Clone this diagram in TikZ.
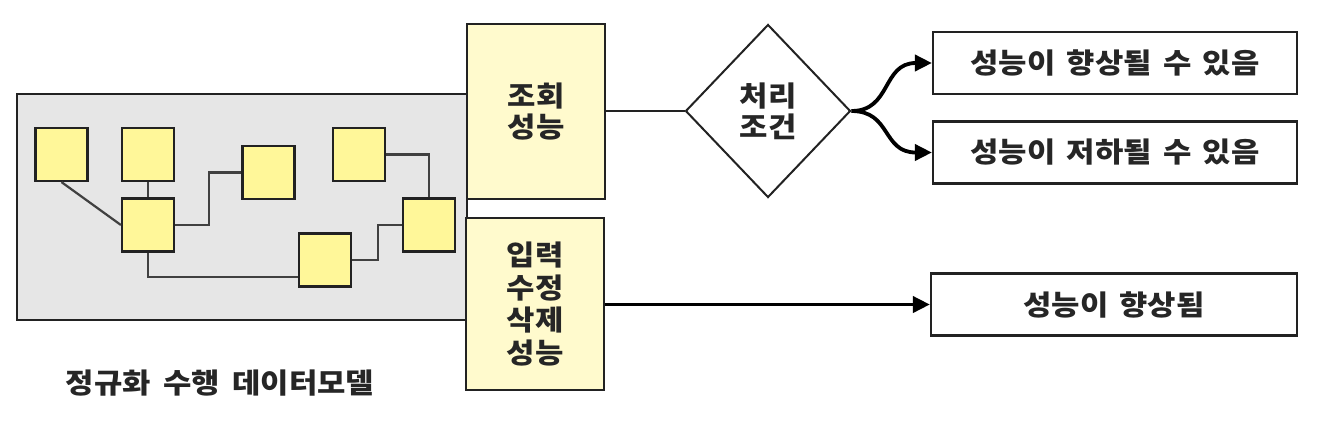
\documentclass[tikz,border=0pt]{standalone}
\usepackage{fontspec}
\newfontfamily\kr{Noto Sans CJK KR}[FakeStretch=1.1, WordSpace=1.6]
\usetikzlibrary{shapes.geometric,arrows.meta,calc}
\definecolor{grayfill}{HTML}{E6E6E6}
\definecolor{sqfill}{HTML}{FFF799}
\definecolor{bigfill}{HTML}{FFFACD}
\definecolor{edge}{HTML}{222222}
\begin{document}
\begin{tikzpicture}[x=1pt,y=-1pt,
  every node/.style={font=\kr\bfseries\fontsize{28}{31}\selectfont, text=black!85, inner sep=0pt},
  grayarea/.style={draw=edge, line width=2.2pt, fill=grayfill, minimum width=450, minimum height=226},
  sq/.style={draw=edge, line width=2.2pt, fill=sqfill, minimum width=52, minimum height=53},
  link/.style={draw=black!75, line width=2.2pt},
  bigbox/.style={draw=edge, line width=2.2pt, fill=bigfill, minimum width=138, align=center},
  resbox/.style={draw=edge, line width=2.2pt, fill=white, minimum height=62},
  cond/.style={shape=diamond, draw=edge, line width=2pt, fill=white, minimum width=165, minimum height=173, aspect=0.95},
  thin/.style={draw=edge, line width=1.8pt},
  bold/.style={draw=black, line width=3.8pt, -{Triangle[length=17pt,width=16pt]}}
]
\useasboundingbox (0,0) rectangle (1321,421);
% gray area
\node[grayarea] (area) at (242,207) {};
% small squares
\node[sq] (s1) at (61.5,154.5) {};
\node[sq] (s2) at (148,154.5) {};
\node[sq] (s3) at (268.5,172.5) {};
\node[sq] (s4) at (359,154.5) {};
\node[sq] (s5) at (148,225) {};
\node[sq] (s6) at (429,225) {};
\node[sq] (s7) at (325,260) {};
\draw[link] (s1.south) -- (s5.west);
\draw[link] (s2.south) -- (s5.north);
\draw[link] (s5.east) -- ++(34,0) |- (s3.west);
\draw[link] (s4.east) -| (s6.north);
\draw[link] (s7.east) -- ++(26,0) |- (s6.west);
\draw[link] (s5.south) |- ($(s7.west)+(0,17)$);
% big yellow boxes
\node[bigbox, minimum height=175] (b1) at (536,111.5) {조회\\성능};
\node[bigbox, minimum height=172, font=\kr\bfseries\fontsize{28}{32.5}\selectfont] (b2) at (535,304) {입력\\수정\\삭제\\성능};
% decision
\node[cond, align=center] (d) at (768,111) {처리\\조건};
% result boxes
\node[resbox, minimum width=364] (r1) at (1115,63) {성능이 향상될 수 있음};
\node[resbox, minimum width=364] (r2) at (1115,152.5) {성능이 저하될 수 있음};
\node[resbox, minimum width=366] (r3) at (1114,304.5) {성능이 향상됨};
% caption
\node (cap) at (220,383) {정규화\hspace{0.45em}수행\hspace{0.45em}데이터모델};
% connectors
\draw[thin] (b1.east |- d.west) -- (d.west);
\draw[bold] (d.east) .. controls ($(d.east)+(40,0)$) and ($(r1.west)+(-50,0)$) .. (r1.west);
\draw[bold] (d.east) .. controls ($(d.east)+(40,0)$) and ($(r2.west)+(-50,0)$) .. (r2.west);
\draw[bold] (b2.east |- r3.west) -- (r3.west);
\end{tikzpicture}
\end{document}
